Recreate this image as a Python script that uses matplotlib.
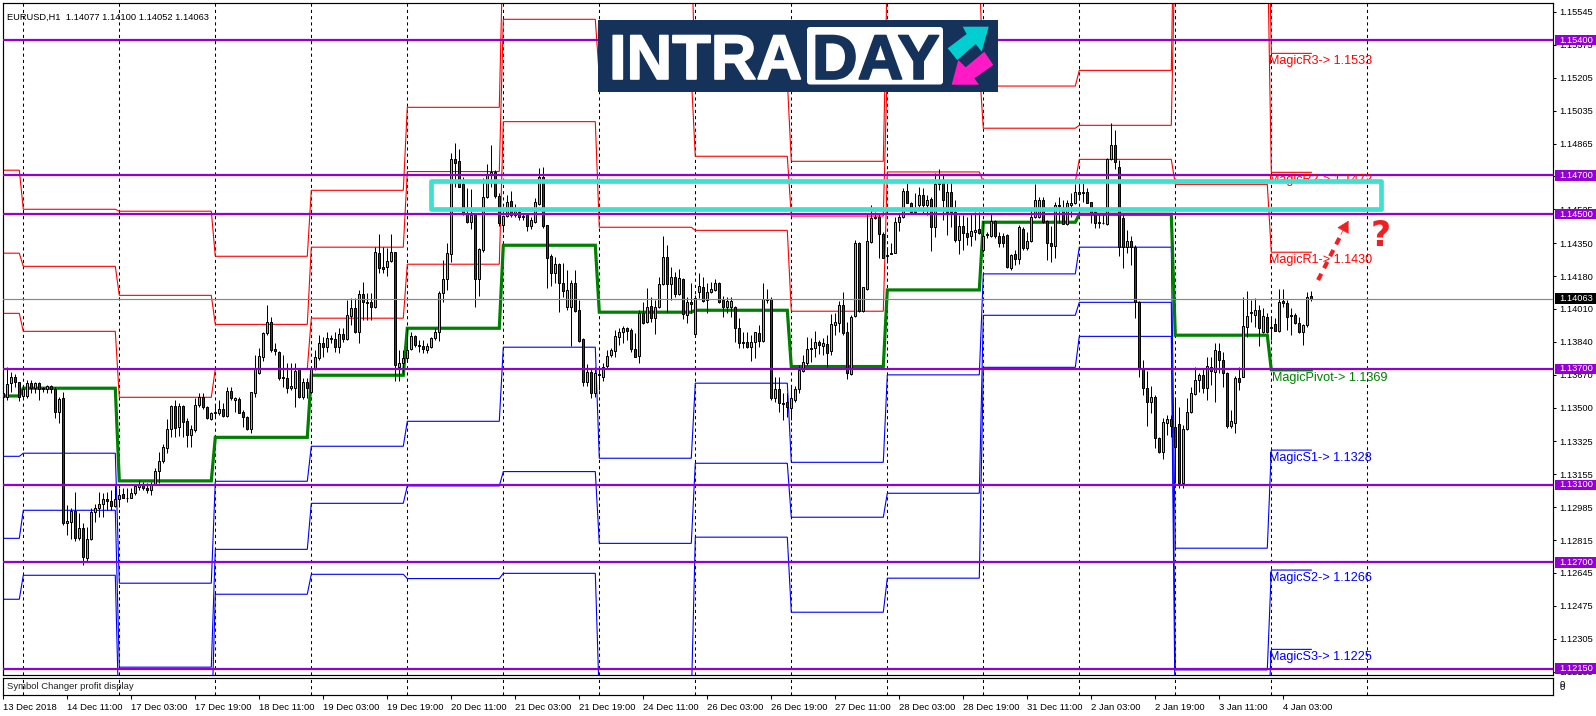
import numpy as np
import matplotlib
matplotlib.use('Agg')
import matplotlib.pyplot as plt
import matplotlib.patheffects as pe
from matplotlib.patches import Rectangle, FancyBboxPatch, Polygon
from matplotlib.transforms import blended_transform_factory

plt.rcParams['font.family'] = ['Liberation Sans', 'DejaVu Sans']

# EURUSD H1, prices in points (1e-5)
opens = [
113573,113556,113625,113656,113630,113561,113561,113625,113599,113625,
113599,113597,113614,113597,113478,113547,112901,112910,112965,112827,
112875,112720,112823,112958,112979,112999,113025,113018,112992,113025,
113051,113034,113035,113056,113087,113099,113082,113073,113103,113173,
113225,113289,113387,113508,113401,113508,113432,113358,113383,113511,
113552,113501,113442,113470,113473,113495,113458,113587,113539,113542,
113477,113452,113387,113576,113680,113763,113884,113944,113801,113789,
113659,113651,113602,113602,113699,113556,113630,113582,113699,113758,
113832,113812,113858,113853,113815,113881,113853,113975,114013,113893,
114087,114044,114044,114018,114298,114225,114225,114260,114303,113711,
113728,113755,113803,113870,113824,113819,113798,113815,113858,113889,
114091,114163,114292,114783,114775,114654,114504,114461,114496,114163,
114315,114587,114706,114720,114594,114444,114490,114566,114496,114513,
114490,114496,114439,114461,114552,114690,114444,114284,114197,114242,
114146,114018,114018,114142,114005,113855,113634,113686,113577,113672,
113660,113717,113772,113794,113867,113889,113910,113901,113801,113768,
113991,113944,114025,113965,114018,114137,114277,114137,114177,114087,
114163,113979,114044,113879,114099,114122,114056,114099,114108,114142,
114056,114018,114022,114018,113910,113841,113841,113815,113837,113884,
113846,114060,114060,113548,113598,113526,113531,113496,113539,113594,
113689,113729,113801,113806,113841,113820,113829,113794,113927,113939,
114030,113889,113674,113975,114349,114001,114113,114358,114478,114487,
114396,114285,114294,114301,114458,114487,114620,114559,114516,114547,
114599,114547,114577,114432,114656,114659,114513,114613,114513,114366,
114439,114404,114387,114409,114421,114315,114391,114389,114466,114389,
114387,114392,114223,114294,114266,114423,114323,114363,114483,114483,
114573,114466,114353,114337,114547,114521,114449,114547,114556,114613,
114608,114613,114561,114513,114452,114456,114449,114783,114857,114742,
114478,114332,114361,114332,114048,113703,113600,113527,113556,113341,
113269,113422,113439,113398,113414,113112,113388,113476,113570,113640,
113669,113600,113712,113686,113794,113746,113677,113407,113422,113651,
113660,113918,113987,113979,114005,113893,113966,113910,113932,113896,
114051,114039,113979,113979,113936,113893,113927,114077]
highs = [
113633,113711,113685,113676,113633,113616,113645,113645,113633,113630,
113607,113618,113618,113604,113556,113582,112996,112979,113061,112953,
112901,112884,112979,113004,113065,113056,113065,113073,113099,113082,
113082,113082,113082,113099,113125,113116,113108,113116,113190,113271,
113311,113439,113513,113539,113521,113513,113444,113409,113547,113576,
113576,113508,113478,113513,113539,113521,113604,113604,113556,113552,
113487,113456,113583,113771,113810,113893,114030,113967,113832,113793,
113771,113728,113728,113732,113702,113651,113651,113711,113797,113875,
113867,113893,113875,113893,113910,113910,114056,114065,114065,114108,
114148,114091,114091,114332,114397,114332,114323,114397,114306,113797,
113797,113910,113893,113875,113850,113850,113832,113867,113910,114105,
114263,114349,114814,114866,114837,114694,114634,114630,114496,114323,
114685,114759,114857,114728,114608,114496,114599,114620,114553,114530,
114504,114504,114487,114582,114740,114745,114444,114294,114280,114246,
114246,114211,114160,114211,114056,113858,113724,113703,113712,113712,
113729,113798,113810,113901,113910,113922,113918,113910,113884,114005,
114048,114120,114073,114056,114177,114387,114340,114229,114203,114215,
114168,114073,114142,114082,114197,114177,114146,114151,114163,114151,
114077,114073,114073,114025,113961,113893,113893,113875,113889,113927,
114142,114111,114070,113656,113660,113574,113574,113617,113612,113720,
113772,113863,113858,113896,113849,113858,113875,113984,113987,114051,
114099,113944,113979,114366,114358,114125,114504,114547,114513,114504,
114409,114332,114349,114483,114504,114633,114659,114565,114608,114639,
114633,114599,114590,114711,114732,114702,114659,114668,114573,114496,
114496,114487,114504,114513,114513,114466,114409,114504,114470,114409,
114401,114396,114294,114315,114444,114435,114409,114521,114656,114587,
114587,114470,114439,114565,114590,114573,114573,114608,114656,114659,
114659,114633,114565,114530,114496,114496,114788,114969,114935,114780,
114496,114418,114387,114340,114051,113746,113691,113613,113565,113350,
113445,113462,113462,113548,113505,113410,113548,113608,113712,113677,
113703,113763,113763,113832,113832,113789,113686,113488,113663,113712,
114073,114104,114056,114065,114030,114013,113987,113970,113961,114111,
114111,114056,114013,113987,113970,113932,114099,114100]
lows = [
113461,113539,113582,113607,113535,113547,113551,113573,113573,113539,
113578,113576,113576,113444,113421,112892,112841,112823,112811,112815,
112686,112706,112815,112910,112935,112935,112970,112970,112984,112987,
113030,113013,113030,113047,113073,113073,113056,113047,113099,113108,
113215,113263,113346,113346,113352,113349,113297,113297,113375,113504,
113490,113439,113435,113444,113461,113452,113452,113539,113478,113470,
113397,113383,113366,113556,113676,113741,113875,113789,113772,113643,
113607,113573,113590,113501,113547,113542,113547,113576,113694,113746,
113763,113789,113832,113786,113784,113841,113850,113927,113888,113832,
113953,113953,113953,114013,114194,114194,114180,114254,113639,113638,
113668,113746,113798,113815,113789,113781,113781,113806,113850,113846,
114048,114108,114254,114642,114642,114496,114453,114422,114022,114079,
114306,114582,114642,114582,114439,114406,114487,114483,114487,114470,
114470,114415,114421,114456,114547,114430,114120,114129,114142,113996,
114073,114005,113818,113996,113841,113612,113613,113551,113556,113591,
113638,113698,113763,113763,113824,113832,113849,113789,113763,113732,
113932,113936,113944,113880,114013,114134,113996,114056,114073,114082,
113958,113939,113987,113879,114065,114044,113987,114094,114102,114042,
113970,113987,113970,113841,113806,113806,113806,113743,113755,113815,
113841,114042,113539,113531,113479,113436,113453,113436,113531,113574,
113686,113720,113737,113760,113777,113772,113712,113772,113875,113893,
113875,113646,113669,113970,113996,113996,114108,114349,114475,114272,
114272,114246,114292,114297,114415,114478,114556,114504,114513,114539,
114504,114496,114309,114384,114625,114470,114392,114435,114358,114294,
114315,114340,114335,114366,114397,114306,114375,114380,114378,114332,
114332,114223,114211,114237,114241,114315,114315,114358,114478,114478,
114452,114263,114254,114272,114452,114449,114444,114487,114552,114573,
114565,114556,114452,114427,114427,114449,114444,114780,114732,114284,
114220,114297,114237,113965,113660,113565,113407,113474,113289,113264,
113236,113358,113350,113108,113083,113083,113384,113470,113565,113582,
113574,113539,113617,113531,113677,113608,113393,113393,113367,113591,
113656,113867,113944,113918,113818,113884,113884,113849,113896,113893,
114022,113901,113875,113932,113884,113824,113915,114052]
closes = [
113556,113620,113656,113630,113556,113594,113625,113599,113625,113594,
113597,113614,113597,113478,113542,112904,112915,112965,112827,112875,
112725,112823,112958,112979,112999,113025,113018,112992,113025,113046,
113034,113035,113056,113094,113099,113082,113073,113103,113173,113225,
113294,113387,113508,113392,113508,113427,113358,113387,113511,113552,
113501,113444,113473,113477,113495,113458,113587,113547,113547,113473,
113452,113387,113583,113702,113766,113884,113941,113798,113793,113651,
113651,113602,113611,113688,113556,113633,113599,113699,113759,113832,
113812,113858,113853,113815,113881,113853,113979,114013,113893,114087,
114044,114039,114018,114303,114220,114215,114260,114306,113720,113728,
113754,113798,113870,113824,113819,113801,113819,113858,113893,114091,
114163,114298,114783,114766,114642,114504,114461,114496,114163,114318,
114587,114708,114716,114596,114453,114490,114561,114496,114518,114487,
114487,114439,114470,114561,114690,114439,114275,114197,114242,114142,
114104,114108,114146,114001,113846,113634,113682,113577,113677,113667,
113712,113768,113798,113870,113893,113910,113898,113801,113763,113991,
113939,114018,113965,114018,114137,114277,114137,114177,114087,114168,
113984,114044,114034,114065,114130,114051,114099,114111,114142,114048,
114022,114051,114051,113913,113836,113832,113815,113837,113889,113846,
114060,114056,113551,113594,113522,113520,113505,113548,113594,113694,
113734,113801,113806,113841,113824,113832,113781,113930,113941,114030,
113887,113677,113970,114349,114001,114122,114361,114482,114487,114396,
114275,114289,114301,114458,114487,114620,114559,114513,114513,114599,
114547,114573,114432,114656,114659,114573,114613,114513,114366,114439,
114404,114384,114415,114418,114404,114387,114396,114466,114387,114353,
114353,114225,114289,114266,114432,114323,114363,114483,114573,114573,
114458,114353,114337,114547,114544,114449,114556,114559,114613,114602,
114613,114559,114504,114452,114461,114452,114783,114857,114768,114332,
114332,114361,114332,114044,113703,113600,113527,113553,113341,113269,
113427,113439,113407,113298,113112,113389,113476,113574,113643,113669,
113600,113717,113689,113798,113746,113677,113407,113431,113651,113634,
113924,113975,113996,114005,113910,113973,113889,113918,113896,114048,
114039,113970,113973,113936,113893,113927,114073,114063]

# daily pivot levels, one value per day segment
r3 = [114727,114525,114515,114282,114623,115052,115952,115865,115193,114773,115779,115162,115243,116469,115331]
r2 = [114298,114230,114080,113930,114329,114720,115507,115211,114799,114490,115262,114944,114959,115952,114716]
r1 = [113987,113894,113553,113700,113962,114241,114978,114432,114416,113998,114718,114668,114783,114654,114303]
pivot = [113560,113600,113121,113346,113667,113910,114339,113993,114003,113712,114108,114458,114499,113874,113695]
s1 = [113248,113264,112592,113119,113300,113429,113812,113238,113626,113217,113669,114191,114329,112773,113280]
s2 = [112824,112969,112158,112767,113005,113095,113169,112798,113212,112933,113057,113977,114044,112144,112660]
s3 = [112509,112633,111817,112535,112638,112616,112643,111989,112830,112442,112618,113708,113868,111817,112250]

level_prices = [1.15400, 1.14700, 1.14500, 1.13700, 1.13100, 1.12700, 1.12150]
last_price = 1.14063
price_ticks = [1.15545, 1.15375, 1.15205, 1.15035, 1.14865, 1.14695, 1.14525, 1.14350, 1.14180, 1.14010,
               1.13840, 1.13670, 1.13500, 1.13325, 1.13155, 1.12985, 1.12815, 1.12645, 1.12475, 1.12305, 1.12135]
date_labels = ['13 Dec 2018', '14 Dec 11:00', '17 Dec 03:00', '17 Dec 19:00', '18 Dec 11:00', '19 Dec 03:00',
               '19 Dec 19:00', '20 Dec 11:00', '21 Dec 03:00', '21 Dec 19:00', '24 Dec 11:00', '26 Dec 03:00',
               '26 Dec 19:00', '27 Dec 11:00', '28 Dec 03:00', '28 Dec 19:00', '31 Dec 11:00', '2 Jan 03:00',
               '2 Jan 19:00', '3 Jan 11:00', '4 Jan 03:00']

W, H = 1596, 716
fig = plt.figure(figsize=(W / 100, H / 100), dpi=100, facecolor='white')

def axes_px(left, top, right, bottom, **kw):
    return fig.add_axes([left / W, 1 - bottom / H, (right - left) / W, (bottom - top) / H], **kw)

ax = axes_px(3, 2.5, 1553, 675)
ax2 = axes_px(3, 677.5, 1553, 695)

o = np.array(opens) / 1e5
h = np.array(highs) / 1e5
l = np.array(lows) / 1e5
c = np.array(closes) / 1e5
bars = np.arange(len(o))

ax.set_xlim(-0.075, 387.425)
ax.set_ylim(1.121175, 1.155939)
ax2.set_xlim(ax.get_xlim())
ax2.set_ylim(0, 1)

# daily separators
seps = np.arange(5, 342, 24)
for s in seps:
    ax.axvline(s, color='black', lw=0.75, ls=(0, (3, 3)), zorder=1)
    ax2.axvline(s, color='black', lw=0.75, ls=(0, (3, 3)), zorder=1)

# pivot staircase lines
starts = np.concatenate(([0], seps[:14]))
ends = np.concatenate((seps[:14] - 1, [bars[-1]]))
seg_x = np.column_stack((starts, ends)).ravel()

def level_line(vals, color, lw, z):
    y = np.repeat(np.array(vals) / 1e5, 2)
    ax.plot(seg_x, y, color=color, lw=lw, zorder=z, solid_joinstyle='miter')

for vals in (r3, r2, r1):
    level_line(vals, '#FF0000', 0.8, 2)
for vals in (s1, s2, s3):
    level_line(vals, '#0000FF', 0.8, 2)
level_line(pivot, '#008000', 2.3, 2.5)

# candles
up = c >= o
ax.vlines(bars, l, h, color='black', lw=0.72, zorder=3)
ax.bar(bars[up], (c - o)[up], bottom=o[up], width=0.5, color='#9ACD32', edgecolor='black', lw=0.72, zorder=3.2)
ax.bar(bars[~up], (c - o)[~up], bottom=o[~up], width=0.5, color='#D00000', edgecolor='black', lw=0.72, zorder=3.2)

# last price + horizontal levels
ax.axhline(last_price, color='#808890', lw=0.85, zorder=3.5)
for p in level_prices:
    ax.axhline(p, color='#9400D3', lw=1.6, zorder=4)

# level labels on the last day
label_x = 316.5
labels = [('MagicR3', r3, '#FF0000'), ('MagicR2', r2, '#FF0000'), ('MagicR1', r1, '#FF0000'),
          ('MagicPivot', pivot, '#008000'), ('MagicS1', s1, '#0000FF'), ('MagicS2', s2, '#0000FF'), ('MagicS3', s3, '#0000FF')]
for name, vals, col in labels:
    x = label_x + (0.8 if name == 'MagicPivot' else 0)
    ax.annotate('%s-> %.4f' % (name, vals[-1] / 1e5), xy=(x, vals[-1] / 1e5), xytext=(0, -5.8), textcoords='offset points',
                color=col, fontsize=9.1, va='center', ha='left', zorder=5)

# resistance zone
ax.add_patch(Rectangle((106.9, 1.14529), 237.5, 0.0014, fill=False, ec='#40E0D0', lw=3.4, joinstyle='round', zorder=6))

# red dashed arrow and question mark
ax.plot([328.7, 334.6], [1.14159, 1.14400], color='#F02020', lw=3, ls=(0, (1.7, 1.5)), zorder=7)
ax.annotate('', xy=(336.3, 1.14466), xytext=(334.4, 1.14395),
            arrowprops=dict(arrowstyle='-|>,head_length=0.75,head_width=0.42', color='#F02020', lw=0.5, shrinkA=0, shrinkB=0), zorder=7)
ax.text(344.4, 1.14385, '?', color='#F02020', fontsize=25, fontweight='bold', family='DejaVu Sans',
        ha='center', va='center', zorder=7)

# axes look
for a in (ax, ax2):
    for sp in a.spines.values():
        sp.set_linewidth(0.85)
        sp.set_color('black')
ax.xaxis.set_visible(False)
ax.yaxis.tick_right()
ax.set_yticks(price_ticks)
ax.set_yticklabels(['%.5f' % p for p in price_ticks])
ax.tick_params(axis='y', direction='out', length=2.2, width=0.75, pad=2.5, labelsize=6.7, colors='black')

tick_bars = np.arange(len(date_labels)) * 16
ax2.set_xticks(tick_bars)
ax2.set_xticklabels(date_labels, ha='left')
ax2.tick_params(axis='x', direction='out', length=3, width=0.75, pad=2.5, labelsize=6.8)
ax2.set_yticks([])
ax2.text(0.0025, 0.5, 'Symbol Changer profit display', transform=ax2.transAxes, fontsize=6.8, va='center', color='#222222')
for dy in (-0.05, 0.15):
    ax2.text(1.0040, 0.45 + dy, '0', transform=ax2.transAxes, fontsize=6.7, va='center')

ax.text(0.0026, 0.9775, 'EURUSD,H1  1.14077 1.14100 1.14052 1.14063', transform=ax.transAxes,
        fontsize=6.65, va='center', color='black', zorder=8)

# price tags over the right scale
tr = blended_transform_factory(ax.transAxes, ax.transData)
tag_h = 0.00054
tags = [(p, '#9400D3') for p in level_prices] + [(last_price, 'black')]
for p, col in tags:
    ax.add_patch(Rectangle((1.0013, p - tag_h / 2), 0.0278, tag_h, transform=tr, fc=col, ec='none', clip_on=False, zorder=9))
    ax.text(1.0039, p, '%.5f' % p, transform=tr, color='white', fontsize=6.7, va='center', ha='left', clip_on=False, zorder=10)

# logo
logo = axes_px(598, 20, 998, 92)
logo.set_xlim(0, 400)
logo.set_ylim(72, 0)
logo.axis('off')
navy = '#15325B'
logo.add_patch(Rectangle((0, 0), 400, 72, fc=navy, ec='none'))
logo.add_patch(FancyBboxPatch((209, 7), 136, 57.5, boxstyle='round,pad=0,rounding_size=3', fc='white', ec='none'))
logo.text(11, 59, 'INTRA', color='white', fontsize=45.5, fontweight='bold', va='baseline', ha='left',
          path_effects=[pe.withStroke(linewidth=1.2, foreground='white')])
logo.text(214, 59, 'DAY', color=navy, fontsize=45.5, fontweight='bold', va='baseline', ha='left',
          path_effects=[pe.withStroke(linewidth=1.2, foreground=navy)])
logo.add_patch(Polygon([(349.7, 28.3), (368.7, 14), (364.7, 6.7), (390.7, 6.7), (383.7, 31.7), (377.7, 24), (359.3, 40)], fc='#00CED1', ec='none'))
logo.add_patch(Polygon([(353.7, 64.7), (360.3, 40), (367.7, 47.3), (386.3, 31.7), (395.3, 45), (376.3, 58.3), (381, 64.7)], fc='#FF1AC6', ec='none'))

fig.savefig('out.png', dpi=100, facecolor='white')
